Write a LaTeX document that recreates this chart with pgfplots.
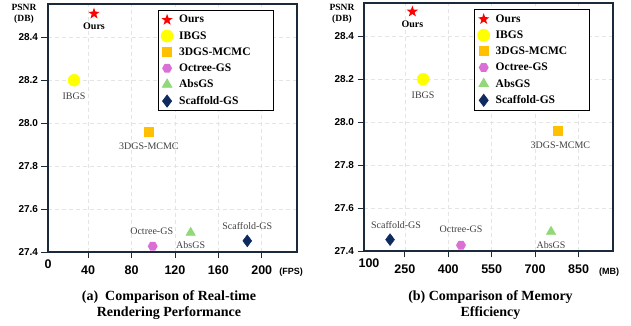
\documentclass[border=0pt]{standalone}
\usepackage{pgfplots}
\pgfplotsset{compat=1.18}
\usepackage{fontspec}
\setmainfont{Liberation Serif}
\newfontfamily\sansf{Liberation Sans}
\definecolor{frame}{HTML}{1B2A3A}
\definecolor{cred}{HTML}{FF0000}
\definecolor{cyel}{HTML}{FFFF00}
\definecolor{corg}{HTML}{FFC000}
\definecolor{corc}{HTML}{DA70D6}
\definecolor{cgrn}{HTML}{90D878}
\definecolor{cnav}{HTML}{0F2A5F}
\definecolor{lblg}{HTML}{404040}
\definecolor{gridc}{HTML}{E4E4E4}

\pgfdeclareplotmark{fstar}{%
  \pgfpathmoveto{\pgfpointpolar{90}{\pgfplotmarksize}}%
  \pgfpathlineto{\pgfpointpolar{126}{0.40\pgfplotmarksize}}%
  \pgfpathlineto{\pgfpointpolar{162}{\pgfplotmarksize}}%
  \pgfpathlineto{\pgfpointpolar{198}{0.40\pgfplotmarksize}}%
  \pgfpathlineto{\pgfpointpolar{234}{\pgfplotmarksize}}%
  \pgfpathlineto{\pgfpointpolar{270}{0.40\pgfplotmarksize}}%
  \pgfpathlineto{\pgfpointpolar{306}{\pgfplotmarksize}}%
  \pgfpathlineto{\pgfpointpolar{342}{0.40\pgfplotmarksize}}%
  \pgfpathlineto{\pgfpointpolar{18}{\pgfplotmarksize}}%
  \pgfpathlineto{\pgfpointpolar{54}{0.40\pgfplotmarksize}}%
  \pgfpathclose
  \pgfusepathqfill}
\pgfdeclareplotmark{hexa}{%
  \pgfpathmoveto{\pgfpointpolar{0}{\pgfplotmarksize}}%
  \pgfpathlineto{\pgfpointpolar{60}{\pgfplotmarksize}}%
  \pgfpathlineto{\pgfpointpolar{120}{\pgfplotmarksize}}%
  \pgfpathlineto{\pgfpointpolar{180}{\pgfplotmarksize}}%
  \pgfpathlineto{\pgfpointpolar{240}{\pgfplotmarksize}}%
  \pgfpathlineto{\pgfpointpolar{300}{\pgfplotmarksize}}%
  \pgfpathclose
  \pgfusepathqfill}

\pgfplotsset{
  lbl/.style={every node near coord/.append style={font=\fontsize{10}{12}\selectfont, text=lblg, anchor=center, #1}},
  base/.style={
    scale only axis, width=249pt, height=248pt,
    axis line style={draw=frame, line width=1.6pt},
    ymin=27.4, ymax=28.555,
    ytick={27.4,27.6,...,28.41},
    yticklabel style={/pgf/number format/fixed, /pgf/number format/fixed zerofill, /pgf/number format/precision=1},
    tick align=outside, major tick length=6.5pt,
    tick style={draw=frame, line width=0.8pt},
    xtick pos=bottom, ytick pos=left,
    grid=major, grid style={draw=gridc, dash pattern=on 4pt off 3pt, line width=0.6pt},
    /pgf/number format/assume math mode=true,
    yticklabel style={font=\sansf\bfseries\fontsize{10}{12}\selectfont},
    xticklabel style={font=\sansf\bfseries\fontsize{12.5}{14}\selectfont, yshift=-4pt},
    legend cell align=left,
    legend style={draw=black, line width=0.8pt, fill=white, anchor=north west,
      font=\bfseries\fontsize{11.5}{13}\selectfont, row sep=3pt, column sep=4pt,
      inner xsep=3pt, inner ysep=3pt},
  },
}

\begin{document}
\begin{tikzpicture}[x=1pt,y=1pt]
\path[use as bounding box] (0pt,0pt) rectangle (631pt,326pt);

% ---------- (a) FPS ----------
\begin{axis}[base, at={(48pt,74pt)}, anchor=south west,
  xmin=3, xmax=232.5, xtick={40,80,...,200},
  extra x ticks={3}, extra x tick labels={0},
  extra x tick style={major tick length=0pt, grid=none},
  legend style={at={(0.4406,0.976)}}]
\addplot[only marks, mark=fstar, mark size=6pt, color=cred,
  nodes near coords={Ours}, lbl={yshift=-12.7pt, text=black, font=\bfseries\fontsize{10}{12}\selectfont}]
  coordinates {(45.4,28.51)};
\addlegendentry{Ours}
\addplot[only marks, mark=*, mark size=6pt, color=cyel, draw=none, fill=cyel,
  nodes near coords={IBGS}, lbl={yshift=-16pt}]
  coordinates {(27,28.2)};
\addlegendentry{IBGS}
\addplot[only marks, mark=square*, mark size=4.5pt, color=corg, draw=none, fill=corg,
  nodes near coords={3DGS-MCMC}, lbl={yshift=-14pt}]
  coordinates {(96,27.96)};
\addlegendentry{\makebox[89pt][l]{3DGS-MCMC}}
\addplot[only marks, mark=hexa, mark size=5pt, color=corc,
  nodes near coords={Octree-GS}, lbl={yshift=14.6pt, xshift=-1pt}]
  coordinates {(99.5,27.427)};
\addlegendentry{Octree-GS}
\addplot[only marks, mark=triangle*, mark size=5.5pt, color=cgrn, draw=none, fill=cgrn,
  nodes near coords={AbsGS}, lbl={yshift=-12.4pt}]
  coordinates {(134.5,27.49)};
\addlegendentry{AbsGS}
\addplot[only marks, mark=diamond*, mark size=6pt, color=cnav, draw=none, fill=cnav,
  nodes near coords={Scaffold-GS}, lbl={yshift=14.6pt}]
  coordinates {(186.7,27.452)};
\addlegendentry{Scaffold-GS}
\end{axis}

% ---------- (b) Memory ----------
\begin{axis}[base, at={(364pt,75pt)}, anchor=south west,
  xmin=109, xmax=969, xtick={250,400,...,850},
  extra x ticks={109}, extra x tick labels={100},
  extra x tick style={major tick length=0pt, grid=none, xticklabel style={xshift=5pt}},
  legend style={at={(0.443,0.975)}}]
\addplot[only marks, mark=fstar, mark size=6pt, color=cred,
  nodes near coords={Ours}, lbl={yshift=-12.7pt, text=black, font=\bfseries\fontsize{10}{12}\selectfont}]
  coordinates {(276,28.515)};
\addlegendentry{Ours}
\addplot[only marks, mark=*, mark size=6pt, color=cyel, draw=none, fill=cyel,
  nodes near coords={IBGS}, lbl={yshift=-16.5pt}]
  coordinates {(313,28.2)};
\addlegendentry{IBGS}
\addplot[only marks, mark=square*, mark size=4.5pt, color=corg, draw=none, fill=corg,
  nodes near coords={3DGS-MCMC}, lbl={yshift=-14pt, xshift=3pt}]
  coordinates {(777,27.96)};
\addlegendentry{\makebox[89pt][l]{3DGS-MCMC}}
\addplot[only marks, mark=hexa, mark size=5pt, color=corc,
  nodes near coords={Octree-GS}, lbl={yshift=15.5pt}]
  coordinates {(444,27.427)};
\addlegendentry{Octree-GS}
\addplot[only marks, mark=triangle*, mark size=5.5pt, color=cgrn, draw=none, fill=cgrn,
  nodes near coords={AbsGS}, lbl={yshift=-13pt}]
  coordinates {(755,27.49)};
\addlegendentry{AbsGS}
\addplot[only marks, mark=diamond*, mark size=6pt, color=cnav, draw=none, fill=cnav,
  nodes near coords={Scaffold-GS}, lbl={yshift=15pt, xshift=6pt}]
  coordinates {(199,27.453)};
\addlegendentry{Scaffold-GS}
\end{axis}

% axis unit labels
\node[font=\bfseries\fontsize{9.5}{11}\selectfont, align=center] at (24pt,312pt) {PSNR\\(DB)};
\node[font=\bfseries\fontsize{9.5}{11}\selectfont, align=center] at (342pt,312pt) {PSNR\\(DB)};
\node[font=\sansf\bfseries\fontsize{9}{11}\selectfont] at (291pt,54pt) {(FPS)};
\node[font=\sansf\bfseries\fontsize{9}{11}\selectfont] at (609pt,54pt) {(MB)};

% subcaptions
\node[font=\bfseries\fontsize{14}{16.5}\selectfont, align=center] at (169pt,21pt)
  {(a)\ \ Comparison of Real-time\\Rendering Performance};
\node[font=\bfseries\fontsize{14}{16.5}\selectfont, align=center] at (490.5pt,21pt)
  {(b) Comparison of Memory\\Efficiency};
\end{tikzpicture}
\end{document}
